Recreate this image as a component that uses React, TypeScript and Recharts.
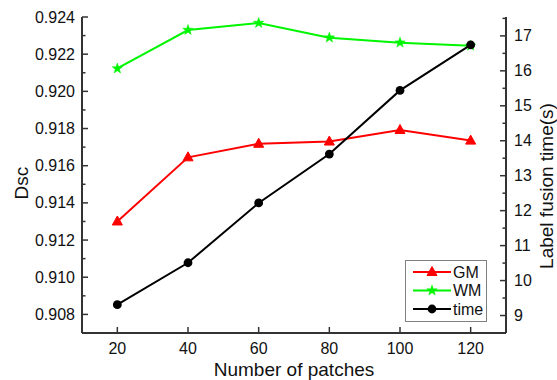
import React from "react";
import {
    ComposedChart,
    Line,
    XAxis,
    YAxis,
    Legend,
} from "recharts";

// values
const patches = [20, 40, 60, 80, 100, 120];
const gmDsc = [0.913, 0.91645, 0.91718, 0.9173, 0.91792, 0.91735];
const wmDsc = [0.92123, 0.9233, 0.92368, 0.92289, 0.92262, 0.92245];
const fusionTime = [9.31, 10.51, 12.22, 13.62, 15.44, 16.74];

// ticks (minor ticks included, labels only on the major ones)
const xTicks = [20, 40, 60, 80, 100, 120];
const dscTicks = [
    0.908, 0.909, 0.91, 0.911, 0.912, 0.913, 0.914, 0.915, 0.916, 0.917, 0.918,
    0.919, 0.92, 0.921, 0.922, 0.923, 0.924,
];
const timeTicks = [9, 9.5, 10, 10.5, 11, 11.5, 12, 12.5, 13, 13.5, 14, 14.5, 15, 15.5, 16, 16.5, 17, 17.5];

const data = patches.map((p, i) => ({
    patches: p,
    GM: gmDsc[i],
    WM: wmDsc[i],
    time: fusionTime[i],
}));

const AXIS = "#333";
const TEXT = "#111";
const FONT = "'Liberation Sans', Arial, sans-serif";

const series = [
    { key: "GM", color: "#ff0000", shape: "triangle" },
    { key: "WM", color: "#00f500", shape: "star" },
    { key: "time", color: "#000000", shape: "circle" },
];

const marker = (shape: string, cx: number, cy: number, color: string, key?: any) => {
    if (shape === "triangle") {
        return (
            <polygon
                key={key}
                points={`${cx},${cy - 5.5} ${cx - 5},${cy + 3.5} ${cx + 5},${cy + 3.5}`}
                fill={color}
                stroke={color}
            />
        );
    }
    if (shape === "star") {
        const pts: string[] = [];
        for (let k = 0; k < 10; k++) {
            const r = k % 2 === 0 ? 5.5 : 2.2;
            const a = -Math.PI / 2 + (k * Math.PI) / 5;
            pts.push(`${cx + r * Math.cos(a)},${cy + r * Math.sin(a)}`);
        }
        return <polygon key={key} points={pts.join(" ")} fill={color} stroke={color} strokeWidth={0.5} />;
    }
    return <circle key={key} cx={cx} cy={cy} r={4.4} fill={color} />;
};

const LeftTick = (props: any) => {
    const { x, y, payload } = props;
    const major = Math.round(payload.value * 1000) % 2 === 0;
    return (
        <g>
            <line x1={x + 7} x2={x + 7 + (major ? 6 : 3.5)} y1={y} y2={y} stroke={AXIS} strokeWidth={1.5} />
            {major && (
                <text x={x} y={y} dy="0.35em" textAnchor="end" fontSize={16} fill={TEXT} fontFamily={FONT}>
                    {payload.value.toFixed(3)}
                </text>
            )}
        </g>
    );
};

const RightTick = (props: any) => {
    const { x, y, payload } = props;
    const major = Number.isInteger(payload.value);
    return (
        <g>
            <line x1={x - 8} x2={x - 8 - (major ? 6 : 3.5)} y1={y} y2={y} stroke={AXIS} strokeWidth={1.5} />
            {major && (
                <text x={x} y={y} dy="0.35em" textAnchor="start" fontSize={16} fill={TEXT} fontFamily={FONT}>
                    {payload.value}
                </text>
            )}
        </g>
    );
};

const BottomTick = (props: any) => {
    const { x, y, payload } = props;
    return (
        <g>
            <line x1={x} x2={x} y1={y - 10} y2={y - 16} stroke={AXIS} strokeWidth={1.5} />
            <text x={x} y={y} dy="0.71em" textAnchor="middle" fontSize={16} fill={TEXT} fontFamily={FONT}>
                {payload.value}
            </text>
        </g>
    );
};

const renderLegend = () => (
    <svg width={82} height={62} style={{ display: "block" }}>
        <rect x={0.5} y={0.5} width={81} height={61} fill="#fff" stroke="#808080" />
        {series.map((s, i) => {
            const cy = 12 + i * 18.5;
            return (
                <g key={s.key}>
                    <line x1={8} x2={46} y1={cy} y2={cy} stroke={s.color} strokeWidth={2} />
                    {marker(s.shape, 27, cy, s.color)}
                    <text x={48} y={cy} dy="0.35em" fontSize={16} fill={TEXT} fontFamily={FONT}>
                        {s.key}
                    </text>
                </g>
            );
        })}
    </svg>
);

const App: React.FunctionComponent = () => {
    return (
        <div style={{ position: "absolute", left: 0, top: 0, width: 557, height: 380, background: "#fff" }}>
            <ComposedChart
                width={557}
                height={380}
                data={data}
                margin={{ top: 17, right: 0, bottom: 0, left: 0 }}
                style={{ fontFamily: FONT }}
            >
                <XAxis
                    dataKey="patches"
                    type="number"
                    domain={[10, 130]}
                    ticks={xTicks}
                    interval={0}
                    height={47}
                    tickSize={0}
                    tickMargin={10}
                    tickLine={false}
                    axisLine={{ stroke: AXIS, strokeWidth: 2 }}
                    tick={<BottomTick />}
                    label={{
                        value: "Number of patches",
                        position: "insideBottom",
                        offset: 4,
                        fontSize: 19,
                        fill: TEXT,
                    }}
                />
                <YAxis
                    yAxisId="left"
                    orientation="left"
                    domain={[0.907, 0.924]}
                    ticks={dscTicks}
                    interval={0}
                    width={82}
                    tickSize={0}
                    tickMargin={7}
                    tickLine={false}
                    axisLine={{ stroke: AXIS, strokeWidth: 2 }}
                    tick={<LeftTick />}
                    label={{
                        content: () => (
                            <text
                                x={28}
                                y={183}
                                transform="rotate(-90 28 183)"
                                textAnchor="middle"
                                fontSize={19}
                                fill={TEXT}
                                fontFamily={FONT}
                            >
                                Dsc
                            </text>
                        ),
                    }}
                />
                <YAxis
                    yAxisId="right"
                    orientation="right"
                    domain={[8.5, 17.54]}
                    ticks={timeTicks}
                    interval={0}
                    width={51}
                    tickSize={0}
                    tickMargin={8}
                    tickLine={false}
                    axisLine={{ stroke: AXIS, strokeWidth: 2 }}
                    tick={<RightTick />}
                    label={{
                        content: () => (
                            <text
                                x={553}
                                y={186}
                                transform="rotate(-90 553 186)"
                                textAnchor="middle"
                                fontSize={19}
                                fill={TEXT}
                                fontFamily={FONT}
                            >
                                Label fusion time(s)
                            </text>
                        ),
                    }}
                />
                <Legend
                    layout="vertical"
                    align="center"
                    verticalAlign="middle"
                    content={renderLegend}
                    wrapperStyle={{ left: 405, top: 260, right: "auto", bottom: "auto", width: 82, height: 62 }}
                />
                {series.map((s) => (
                    <Line
                        key={s.key}
                        yAxisId={s.key === "time" ? "right" : "left"}
                        dataKey={s.key}
                        stroke={s.color}
                        strokeWidth={2}
                        isAnimationActive={false}
                        dot={(p: any) => marker(s.shape, p.cx, p.cy, s.color, `${s.key}-${p.index}`)}
                        activeDot={false}
                    />
                ))}
            </ComposedChart>
        </div>
    );
};

export default App;
